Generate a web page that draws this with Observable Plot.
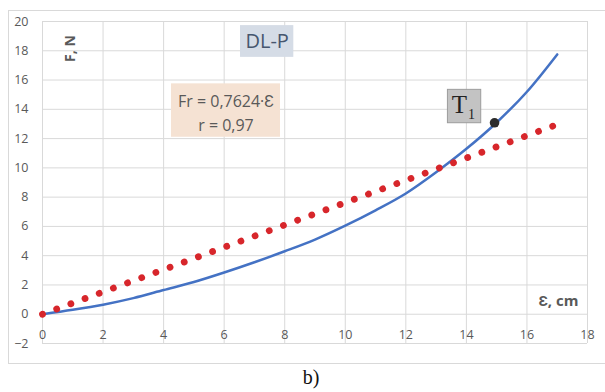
<!DOCTYPE html>
<html><head><meta charset="utf-8">
<script src="https://cdn.jsdelivr.net/npm/d3@7"></script>
<script src="https://cdn.jsdelivr.net/npm/@observablehq/plot@0.6"></script>
<style>
body{margin:0;background:#fff;}
#wrap{position:relative;width:605px;height:392px;overflow:hidden;}
#frame{position:absolute;left:8px;top:10px;width:600px;height:354px;border:1px solid #d9d9d9;box-sizing:border-box;pointer-events:none;}
#cap{position:absolute;left:0;width:622px;top:367px;text-align:center;font:20px/20px "Liberation Serif","Times New Roman",serif;color:#111;}
</style></head><body>
<div id="wrap"><div id="chart"></div><div id="frame"></div><div id="cap">b)</div></div>
<script>
// Measured curve F(ε)
const strain = [0,1,2,3,4,5,6,7,8,9,10,11,12,13,14,15,16,17];
const force  = [0,0.3,0.65,1.1,1.65,2.2,2.85,3.55,4.3,5.1,6.05,7.1,8.25,9.7,11.3,13.1,15.2,17.75];
// Linear fit Fr = 0.7624·ε (drawn as dotted line)
const trendStrain = [0, 16.85];
const trendForce  = [0, 12.85];
// Point T1
const pointT1 = [{x: 14.93, y: 13.08}];
// Ticks
const xTicks = [0,2,4,6,8,10,12,14,16,18];
const yTicks = [-2,0,2,4,6,8,10,12,14,16,18,20];
// Annotations (data coordinates)
const dlpBox = [{x1: 6.54, x2: 8.30, y1: 17.55, y2: 19.72}];
const dlpText = [{x: 7.42, y: 18.62, text: "DL-P"}];
const eqBox = [{x1: 4.26, x2: 7.86, y1: 12.09, y2: 15.74}];
const eqText = [{x: 6.06, y: 13.85, text: "Fr = 0,7624·Ɛ\nr = 0,97"}];
const t1Box = [{x1: 13.39, x2: 14.49, y1: 13.05, y2: 15.33}];
const t1Main = [{x: 13.77, y: 14.32, text: "T"}];
const t1Sub = [{x: 14.17, y: 13.65, text: "1"}];
const yTitle = [{x: 0.93, y: 18.15, text: "F, N"}];
const xTitle = [{x: 17.04, y: 0.87, text: "Ɛ, cm"}];

const curve = strain.map((s, i) => ({x: s, y: force[i]}));
const trend = trendStrain.map((s, i) => ({x: s, y: trendForce[i]}));

const grid = "#d9d9d9", gray = "#595959";
const opts = {
  width: 605, height: 366,
  marginLeft: 42, marginRight: 18, marginTop: 21, marginBottom: 23,
  x: {domain: [0, 18]},
  y: {domain: [-2, 20]}
};
// pixel length of the trend segment, from the plot's own scales (for the dot spacing)
const probe = Plot.plot({...opts, marks: [Plot.line(trend, {x: "x", y: "y"})]});
const sx = probe.scale("x"), sy = probe.scale("y");
const segLen = Math.hypot(sx.apply(trendStrain[1]) - sx.apply(trendStrain[0]), sy.apply(trendForce[1]) - sy.apply(trendForce[0]));
const gap = segLen / 36;

const chart = Plot.plot({
  ...opts,
  style: {fontFamily: "'Open Sans', sans-serif", background: "transparent"},
  marks: [
    Plot.gridX(xTicks, {stroke: grid, strokeOpacity: 1}),
    Plot.gridY(yTicks, {stroke: grid, strokeOpacity: 1}),
    Plot.axisY(yTicks, {tickSize: 0, tickPadding: 14, fontSize: 12.5, fill: gray, label: null}),
    Plot.axisX(xTicks, {anchor: "bottom", tickSize: 0, tickPadding: 0, dy: -13, fontSize: 12.5, fill: gray, label: null}),
    Plot.rect(dlpBox, {x1: "x1", x2: "x2", y1: "y1", y2: "y2", fill: "#d5dce6"}),
    Plot.text(dlpText, {x: "x", y: "y", text: "text", fontSize: 20, fill: "#46566e"}),
    Plot.rect(eqBox, {x1: "x1", x2: "x2", y1: "y1", y2: "y2", fill: "#f5e2d3"}),
    Plot.text(eqText, {x: "x", y: "y", text: "text", fontSize: 16, lineHeight: 1.45, fill: gray}),
    Plot.text(yTitle, {x: "x", y: "y", text: "text", rotate: -90, fontSize: 14, fontWeight: "bold", fill: gray}),
    Plot.text(xTitle, {x: "x", y: "y", text: "text", fontSize: 15, fontWeight: "bold", fill: gray}),
    Plot.line(curve, {x: "x", y: "y", stroke: "#4472c4", strokeWidth: 2.5, curve: "monotone-x"}),
    Plot.line(trend, {x: "x", y: "y", stroke: "#d7262b", strokeWidth: 6.8, strokeLinecap: "round",
                      strokeDasharray: `0.01 ${gap - 0.01}`}),
    Plot.dot(pointT1, {x: "x", y: "y", r: 4.8, fill: "#2b2b2b"}),
    Plot.rect(t1Box, {x1: "x1", x2: "x2", y1: "y1", y2: "y2", fill: "#c3c3c3", stroke: "#9c9c9c"}),
    Plot.text(t1Main, {x: "x", y: "y", text: "text", fontSize: 25, fontFamily: "'Liberation Serif', serif", fill: "#222"}),
    Plot.text(t1Sub, {x: "x", y: "y", text: "text", fontSize: 14, fontFamily: "'Liberation Serif', serif", fill: "#222"})
  ]
});
document.getElementById("chart").appendChild(chart);
</script>
</body></html>
